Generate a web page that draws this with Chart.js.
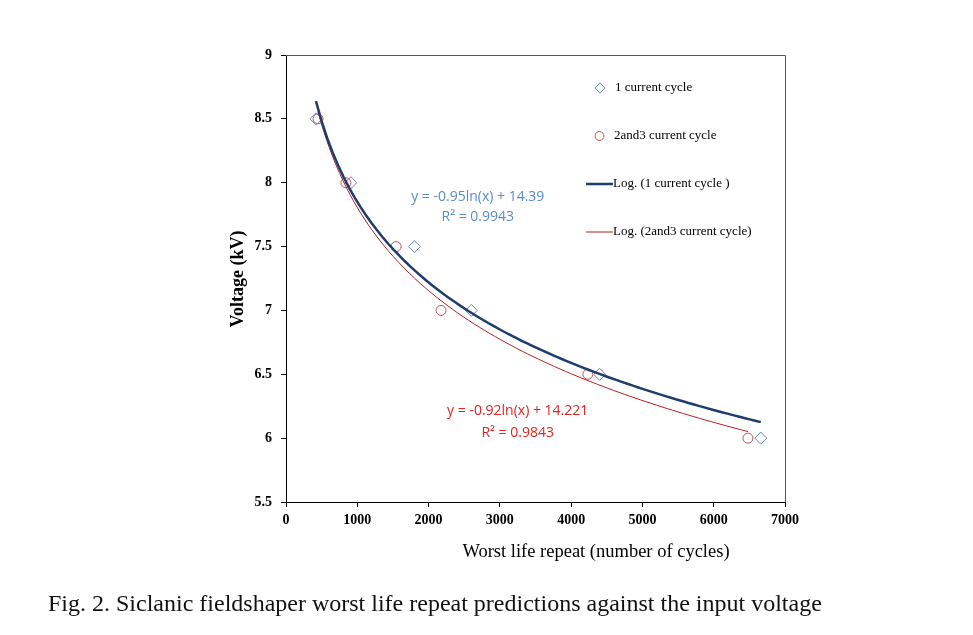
<!DOCTYPE html>
<html>
<head>
<meta charset="utf-8">
<script src="https://cdn.jsdelivr.net/npm/chart.js@4.4.1/dist/chart.umd.min.js"></script>
<style>
  body { margin: 0; background: #fff; }
  #wrap { position: relative; width: 973px; height: 635px; }
  #caption {
    position: absolute; left: 48px; top: 590px;
    font-family: "Liberation Serif", "Times New Roman", serif;
    font-size: 24px; color: #111; white-space: nowrap;
  }
</style>
</head>
<body>
<div id="wrap">
  <canvas id="myChart" width="973" height="635"></canvas>
  <div id="caption">Fig. 2. Siclanic fieldshaper worst life repeat predictions against the input voltage</div>
</div>
<script>
'use strict';

// values
let cycles1 = [420, 910, 1800, 2600, 4400, 6660];
let volts1 = [8.5, 8, 7.5, 7, 6.5, 6];
let cycles23 = [450, 840, 1545, 2175, 4235, 6480];
let volts23 = [8.5, 8, 7.5, 7, 6.5, 6];
let yTicks = [9, 8.5, 8, 7.5, 7, 6.5, 6, 5.5];
let xTicks = [0, 1000, 2000, 3000, 4000, 5000, 6000, 7000];
let seriesNames = ['1 current cycle', '2and3 current cycle', 'Log. (1 current cycle )', 'Log. (2and3 current cycle)'];
let eq1 = ['y = -0.95ln(x) + 14.39', 'R\u00b2 = 0.9943'];
let eq23 = ['y = -0.92ln(x) + 14.221', 'R\u00b2 = 0.9843'];

function toPoints(xs, ys) {
    let pts = [];
    for (let i = 0; i < xs.length; i++) {
        pts.push({ x: xs[i], y: ys[i] });
    }
    return pts;
}

// least squares fit y = a*ln(x) + b, like the spreadsheet trendline
function logTrend(xs, ys) {
    let n = xs.length, sx = 0, sy = 0, sxx = 0, sxy = 0;
    for (let i = 0; i < n; i++) {
        let lx = Math.log(xs[i]);
        sx += lx; sy += ys[i]; sxx += lx * lx; sxy += lx * ys[i];
    }
    let a = (n * sxy - sx * sy) / (n * sxx - sx * sx);
    let b = (sy - a * sx) / n;
    let lo = Math.min(...xs), hi = Math.max(...xs);
    let pts = [];
    for (let k = 0; k <= 80; k++) {
        let x = lo + (hi - lo) * k / 80;
        pts.push({ x: x, y: a * Math.log(x) + b });
    }
    return pts;
}

const serif = '"Liberation Serif", "Times New Roman", serif';
const blueMark = '#5f86c4';
const redMark = '#c9504c';
const navy = '#1d3d6e';
const darkRed = '#b3201c';

const extras = {
    id: 'extras',
    afterDraw(chart) {
        let ctx = chart.ctx;
        let a = chart.chartArea;
        let xs = chart.scales.x, ys = chart.scales.y;
        ctx.save();
        // frame top / right
        ctx.strokeStyle = '#555';
        ctx.lineWidth = 1;
        ctx.beginPath();
        ctx.moveTo(a.left, a.top + 0.5);
        ctx.lineTo(a.right + 0.5, a.top + 0.5);
        ctx.lineTo(a.right + 0.5, a.bottom);
        ctx.stroke();

        // axis titles
        ctx.fillStyle = '#000';
        ctx.textAlign = 'center';
        ctx.textBaseline = 'middle';
        ctx.font = '18.5px ' + serif;
        ctx.fillText('Worst life repeat (number of cycles)', 596, 552);
        ctx.save();
        ctx.translate(238, 279);
        ctx.rotate(-Math.PI / 2);
        ctx.font = 'bold 18px ' + serif;
        ctx.fillText('Voltage (kV)', 0, 0);
        ctx.restore();

        // trendline equations
        ctx.font = '14px "Open Sans", "Liberation Sans", sans-serif';
        ctx.fillStyle = '#5b8ccc';
        ctx.fillText(eq1[0], xs.getPixelForValue(2690), ys.getPixelForValue(7.89));
        ctx.fillText(eq1[1], xs.getPixelForValue(2690), ys.getPixelForValue(7.73));
        ctx.fillStyle = '#e0251f';
        ctx.fillText(eq23[0], xs.getPixelForValue(3250), ys.getPixelForValue(6.21));
        ctx.fillText(eq23[1], xs.getPixelForValue(3250), ys.getPixelForValue(6.04));

        // legend
        ctx.textAlign = 'left';
        ctx.font = '13px ' + serif;
        ctx.fillStyle = '#000';
        let ly = [88, 136, 184, 232];
        ctx.lineWidth = 1;
        ctx.strokeStyle = blueMark;
        ctx.beginPath();
        ctx.moveTo(600, ly[0] - 5); ctx.lineTo(605, ly[0]); ctx.lineTo(600, ly[0] + 5); ctx.lineTo(595, ly[0]); ctx.closePath();
        ctx.stroke();
        ctx.strokeStyle = redMark;
        ctx.beginPath();
        ctx.arc(599.5, ly[1], 4.5, 0, Math.PI * 2);
        ctx.stroke();
        ctx.strokeStyle = navy;
        ctx.lineWidth = 2.5;
        ctx.beginPath(); ctx.moveTo(586, ly[2]); ctx.lineTo(613, ly[2]); ctx.stroke();
        ctx.strokeStyle = darkRed;
        ctx.lineWidth = 1;
        ctx.beginPath(); ctx.moveTo(586, ly[3]); ctx.lineTo(613, ly[3]); ctx.stroke();
        ctx.fillText(seriesNames[0], 615, ly[0]);
        ctx.fillText(seriesNames[1], 614, ly[1]);
        ctx.fillText(seriesNames[2], 613, ly[2]);
        ctx.fillText(seriesNames[3], 613, ly[3]);
        ctx.restore();
    }
};

let ctx = document.getElementById('myChart').getContext('2d');
let myChart = new Chart(ctx, {
    type: 'scatter',
    data: {
        datasets: [{
            label: seriesNames[2],
            type: 'line',
            data: logTrend(cycles1, volts1),
            borderColor: navy,
            borderWidth: 2.5,
            pointRadius: 0,
            fill: false,
            order: 1
        },
        {
            label: seriesNames[3],
            type: 'line',
            data: logTrend(cycles23, volts23),
            borderColor: darkRed,
            borderWidth: 1,
            pointRadius: 0,
            fill: false,
            order: 2
        },
        {
            label: seriesNames[0],
            data: toPoints(cycles1, volts1),
            pointStyle: 'rectRot',
            pointRadius: 6,
            borderColor: blueMark,
            backgroundColor: 'rgba(0,0,0,0)',
            borderWidth: 1,
            order: 3
        },
        {
            label: seriesNames[1],
            data: toPoints(cycles23, volts23),
            pointStyle: 'circle',
            pointRadius: 5,
            borderColor: redMark,
            backgroundColor: 'rgba(0,0,0,0)',
            borderWidth: 1,
            order: 4
        }]
    },
    options: {
        responsive: false,
        animation: false,
        layout: { padding: { left: 0, top: 55, right: 188, bottom: 0 } },
        plugins: { legend: { display: false }, tooltip: { enabled: false } },
        scales: {
            x: {
                type: 'linear',
                min: 0,
                max: 7000,
                afterFit: function (s) { s.height = 133; },
                afterBuildTicks: function (s) { s.ticks = xTicks.map(v => ({ value: v })); },
                border: { color: '#000', width: 1 },
                grid: { drawOnChartArea: false, color: '#000', tickLength: 5 },
                ticks: {
                    color: '#000', font: { family: serif, size: 14, weight: 'bold' }, padding: 5, maxRotation: 0,
                    callback: function (v) { return String(v); }
                }
            },
            y: {
                type: 'linear',
                min: 5.5,
                max: 9,
                afterFit: function (s) { s.width = 286; },
                afterBuildTicks: function (s) { s.ticks = yTicks.map(v => ({ value: v })); },
                border: { color: '#000', width: 1 },
                grid: { drawOnChartArea: false, color: '#000', tickLength: 5 },
                ticks: {
                    color: '#000', font: { family: serif, size: 14, weight: 'bold' }, padding: 9,
                    callback: function (v) { return String(v); }
                }
            }
        }
    },
    plugins: [extras]
});
</script>
</body>
</html>
